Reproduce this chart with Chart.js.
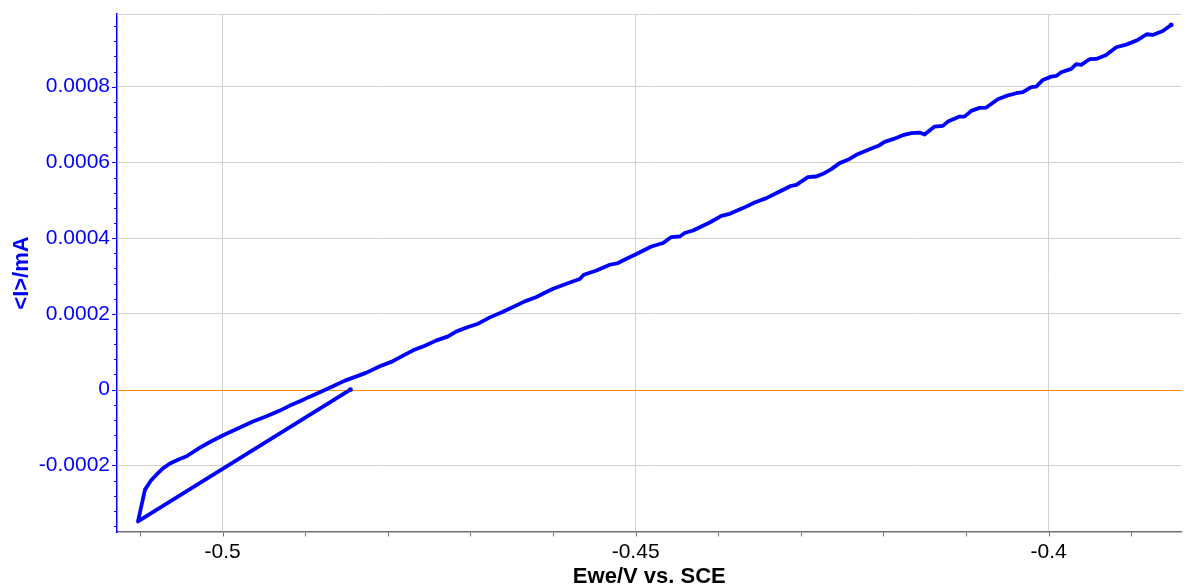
<!DOCTYPE html>
<html>
<head>
<meta charset="utf-8">
<title>Ewe vs I</title>
<script src="https://cdn.jsdelivr.net/npm/chart.js@4.4.1/dist/chart.umd.min.js"></script>
<style>
  html, body { margin: 0; padding: 0; background: #ffffff; }
  #wrap { width: 1184px; height: 586px; position: relative; }
</style>
</head>
<body>
<div id="wrap"><canvas id="cv" width="1184" height="586"></canvas></div>
<script>
// Linear sweep: potential (V vs. SCE) and averaged current (mA), in scan order
const potentialV = [
  -0.48453, -0.51025, -0.50940, -0.50868, -0.50799, -0.50723, -0.50638, -0.50541, -0.50436, -0.50275,
  -0.50142, -0.50000, -0.49791, -0.49633, -0.49468, -0.49307, -0.49186, -0.49065, -0.48944, -0.48823,
  -0.48665, -0.48520, -0.48387, -0.48258, -0.48097, -0.47951, -0.47815, -0.47694, -0.47552, -0.47410,
  -0.47270, -0.47168, -0.47028, -0.46907, -0.46765, -0.46620, -0.46484, -0.46342, -0.46200, -0.46100,
  -0.45999, -0.45837, -0.45676, -0.45628, -0.45474, -0.45313, -0.45213, -0.45111, -0.44990, -0.44809,
  -0.44668, -0.44567, -0.44466, -0.44406, -0.44305, -0.44204, -0.44103, -0.43962, -0.43861, -0.43700,
  -0.43559, -0.43417, -0.43256, -0.43115, -0.43054, -0.42914, -0.42812, -0.42732, -0.42631, -0.42530,
  -0.42430, -0.42328, -0.42167, -0.42046, -0.41986, -0.41885, -0.41764, -0.41663, -0.41562, -0.41502,
  -0.41381, -0.41280, -0.41220, -0.41078, -0.41018, -0.40937, -0.40836, -0.40755, -0.40615, -0.40513,
  -0.40392, -0.40312, -0.40211, -0.40150, -0.40070, -0.39968, -0.39908, -0.39847, -0.39726, -0.39666,
  -0.39606, -0.39505, -0.39424, -0.39303, -0.39182, -0.39061, -0.38921, -0.38812, -0.38739, -0.38618,
  -0.38516
];
const currentMA = [
   0.0000000, -0.0003480, -0.0002640, -0.0002400, -0.0002240, -0.0002080, -0.0001950, -0.0001850, -0.0001760, -0.0001530,
  -0.0001370, -0.0001210, -0.0001000, -0.0000844, -0.0000704, -0.0000554, -0.0000422, -0.0000309, -0.0000185, -0.0000071,
   0.0000087,  0.0000237,  0.0000343,  0.0000449,  0.0000615,  0.0000739,  0.0000897,  0.0001037,  0.0001161,  0.0001301,
   0.0001406,  0.0001538,  0.0001654,  0.0001741,  0.0001908,  0.0002045,  0.0002182,  0.0002330,  0.0002446,  0.0002559,
   0.0002665,  0.0002797,  0.0002921,  0.0003034,  0.0003148,  0.0003298,  0.0003343,  0.0003456,  0.0003580,  0.0003781,
   0.0003871,  0.0004029,  0.0004045,  0.0004135,  0.0004203,  0.0004309,  0.0004414,  0.0004591,  0.0004644,  0.0004794,
   0.0004942,  0.0005058,  0.0005232,  0.0005383,  0.0005409,  0.0005612,  0.0005628,  0.0005699,  0.0005823,  0.0005982,
   0.0006069,  0.0006201,  0.0006351,  0.0006456,  0.0006544,  0.0006615,  0.0006720,  0.0006773,  0.0006789,  0.0006736,
   0.0006947,  0.0006966,  0.0007079,  0.0007211,  0.0007211,  0.0007361,  0.0007441,  0.0007449,  0.0007670,  0.0007757,
   0.0007828,  0.0007855,  0.0007987,  0.0008003,  0.0008179,  0.0008266,  0.0008285,  0.0008383,  0.0008470,  0.0008594,
   0.0008575,  0.0008726,  0.0008734,  0.0008839,  0.0009042,  0.0009111,  0.0009235,  0.0009385,  0.0009367,  0.0009472,
   0.0009631
];

// Axis ranges and tick spacing
const xRange = [-0.51279, -0.3839];
const yRange = [-0.000376, 0.000992];
const xMajorTicks = [-0.5, -0.45, -0.4];
const xTickLabels = ['-0.5', '-0.45', '-0.4'];
const xMinorStep = 0.01;
const yMajorTicks = [-0.0002, 0, 0.0002, 0.0004, 0.0006, 0.0008];
const yTickLabels = ['-0.0002', '0', '0.0002', '0.0004', '0.0006', '0.0008'];
const yMinorStep = 0.00004;

const FONT = '"Liberation Sans", Arial, Helvetica, sans-serif';
const BLUE = '#0000ff';
const ORANGE = '#ff8c00';
const GRID = '#d2d2d2';

function majorIndex(list, v, eps) {
  for (let i = 0; i < list.length; i++) if (Math.abs(list[i] - v) < eps) return i;
  return -1;
}

function buildTicks(scale, step, digits) {
  const lo = Math.ceil(scale.min / step - 1e-9);
  const hi = Math.floor(scale.max / step + 1e-9);
  const out = [];
  for (let k = lo; k <= hi; k++) out.push({ value: Number((k * step).toFixed(digits)) });
  scale.ticks = out;
}

// Zero-current reference line, drawn under the curve
const zeroLine = {
  id: 'zeroLine',
  beforeDatasetsDraw(chart) {
    const ctx = chart.ctx, a = chart.chartArea, ys = chart.scales.y;
    const py = Math.round(ys.getPixelForValue(0)) + 0.5;
    ctx.save();
    ctx.strokeStyle = ORANGE;
    ctx.lineWidth = 1.2;
    ctx.beginPath(); ctx.moveTo(a.left, py); ctx.lineTo(a.right, py); ctx.stroke();
    ctx.restore();
  }
};

// Short tick marks outside the plot: long on labelled values, short elsewhere
const tickMarks = {
  id: 'tickMarks',
  afterDraw(chart) {
    const ctx = chart.ctx;
    const xs = chart.scales.x, ys = chart.scales.y;
    ctx.save();
    ctx.lineWidth = 1;
    ctx.strokeStyle = '#707070';
    const xb = Math.round(xs.top) + 0.5;
    xs.ticks.forEach(t => {
      const px = Math.round(xs.getPixelForValue(t.value)) + 0.5;
      ctx.beginPath(); ctx.moveTo(px, xb); ctx.lineTo(px, xb + 4); ctx.stroke();
    });
    ctx.strokeStyle = BLUE;
    const yb = ys.right;
    ys.ticks.forEach(t => {
      const py = Math.round(ys.getPixelForValue(t.value)) + 0.5;
      const len = majorIndex(yMajorTicks, t.value, 1e-9) >= 0 ? 5 : 3;
      ctx.beginPath(); ctx.moveTo(yb - len, py); ctx.lineTo(yb, py); ctx.stroke();
    });
    // upper frame line of the plot area
    const a = chart.chartArea;
    ctx.strokeStyle = GRID;
    ctx.beginPath(); ctx.moveTo(a.left, Math.round(a.top) + 0.5); ctx.lineTo(a.right, Math.round(a.top) + 0.5); ctx.stroke();
    ctx.restore();
  }
};

const points = potentialV.map((v, i) => ({ x: v, y: currentMA[i] }));
const lastIdx = points.length - 1;

new Chart(document.getElementById('cv'), {
  type: 'scatter',
  data: {
    datasets: [{
      data: points,
      showLine: true,
      borderColor: BLUE,
      backgroundColor: BLUE,
      borderWidth: 3.8,
      borderJoinStyle: 'round',
      borderCapStyle: 'round',
      tension: 0,
      pointRadius: ctx => (ctx.dataIndex === 0 || ctx.dataIndex === lastIdx) ? 2.4 : 0,
      pointBorderWidth: 0,
      pointHoverRadius: 0
    }]
  },
  options: {
    responsive: false,
    animation: false,
    devicePixelRatio: 1,
    layout: { padding: { left: 0, top: 14, right: 2, bottom: 0 } },
    plugins: { legend: { display: false }, tooltip: { enabled: false } },
    scales: {
      x: {
        type: 'linear',
        min: xRange[0], max: xRange[1],
        afterBuildTicks: s => buildTicks(s, xMinorStep, 4),
        afterFit: s => { s.height = 54; s.paddingLeft = 0; s.paddingRight = 0; },
        ticks: {
          autoSkip: false, maxRotation: 0, padding: 8,
          color: '#000000',
          font: { family: FONT, size: 21 },
          callback: v => { const i = majorIndex(xMajorTicks, v, 1e-7); return i >= 0 ? xTickLabels[i] : ''; }
        },
        grid: {
          drawTicks: false,
          lineWidth: 1,
          color: c => (c.tick && majorIndex(xMajorTicks, c.tick.value, 1e-7) >= 0) ? GRID : 'rgba(0,0,0,0)'
        },
        border: { display: true, color: '#707070', width: 1.5 },
        title: {
          display: true, text: 'Ewe/V vs. SCE', color: '#000000',
          font: { family: FONT, size: 22, weight: 'bold', lineHeight: 1 },
          padding: { top: 0, bottom: -2 }
        }
      },
      y: {
        type: 'linear',
        min: yRange[0], max: yRange[1],
        afterBuildTicks: s => buildTicks(s, yMinorStep, 6),
        afterFit: s => { s.width = 117; s.paddingTop = 0; s.paddingBottom = 0; },
        ticks: {
          autoSkip: false, padding: 7,
          color: BLUE,
          font: { family: FONT, size: 21 },
          callback: v => { const i = majorIndex(yMajorTicks, v, 1e-9); return i >= 0 ? yTickLabels[i] : ''; }
        },
        grid: {
          drawTicks: false,
          lineWidth: 1,
          color: c => {
            if (!c.tick || Math.abs(c.tick.value) < 1e-12) return 'rgba(0,0,0,0)';
            return majorIndex(yMajorTicks, c.tick.value, 1e-9) >= 0 ? GRID : 'rgba(0,0,0,0)';
          }
        },
        border: { display: true, color: BLUE, width: 1.5 },
        title: {
          display: true, text: '<I>/mA', color: BLUE,
          font: { family: FONT, size: 22, weight: 'bold', lineHeight: 1 },
          padding: { top: 11, bottom: 0 }
        }
      }
    }
  },
  plugins: [zeroLine, tickMarks]
});
</script>
</body>
</html>
